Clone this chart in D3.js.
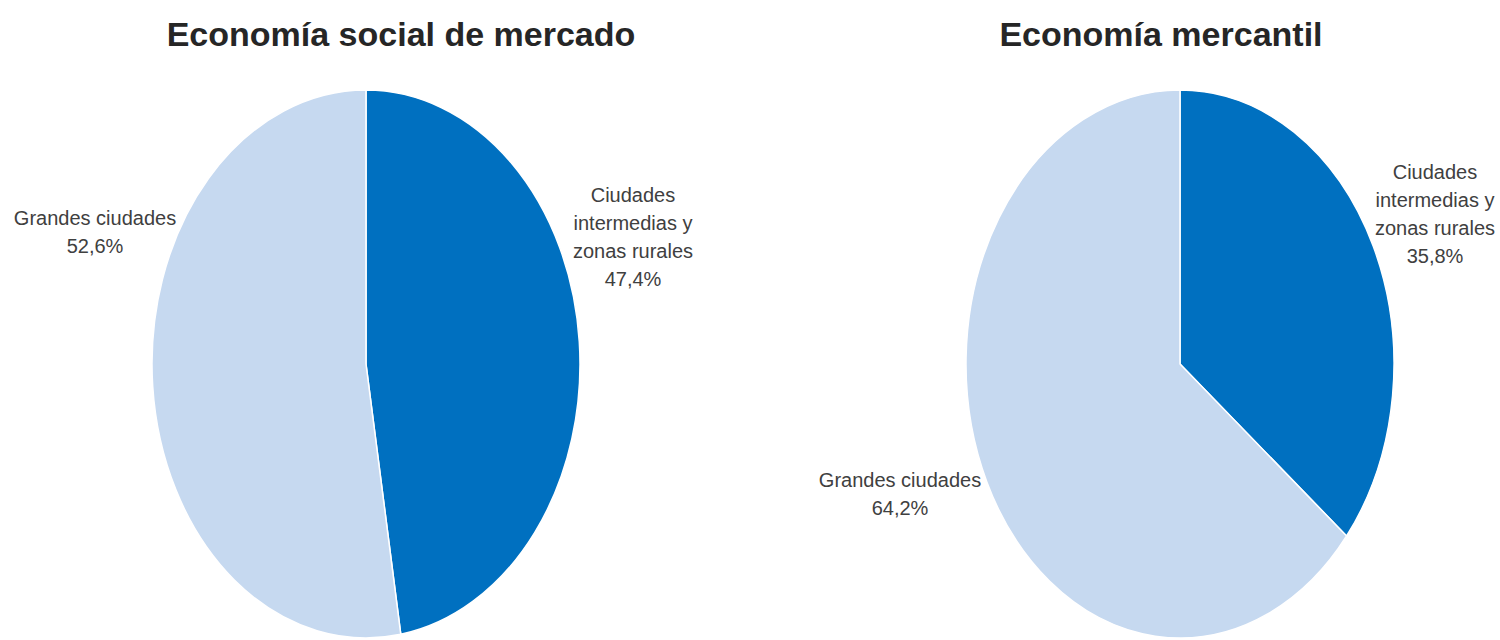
<!DOCTYPE html>
<html>
<head>
<meta charset="utf-8">
<script src="https://cdn.jsdelivr.net/npm/d3@7"></script>
<style>
  body { margin: 0; background: #fff; }
  svg { display: block; }
</style>
</head>
<body>
<div id="chart"></div>
<script>
// datos
var titulos = ["Economía social de mercado", "Economía mercantil"];
var categorias = ["Ciudades intermedias y zonas rurales", "Grandes ciudades"];
var lineasEtiqueta = [["Ciudades", "intermedias y", "zonas rurales"], ["Grandes ciudades"]];
var valoresSocial = [47.4, 52.6];
var valoresMercantil = [35.8, 64.2];
var colores = ["#0070c0", "#c6d9f0"];

var width = 1500, height = 640;

// posiciones de cada torta
var tortas = [
  { titulo: titulos[0], valores: valoresSocial, cx: 366, cy: 364, tx: 401,
    etiquetas: [{ x: 633, y: 202 }, { x: 95, y: 225 }] },
  { titulo: titulos[1], valores: valoresMercantil, cx: 1180, cy: 364, tx: 1161,
    etiquetas: [{ x: 1435, y: 179 }, { x: 900, y: 487 }] }
];
var rx = 214, ry = 274;

var svg = d3.select("#chart")
  .append("svg")
    .attr("width", width)
    .attr("height", height);

var pie = d3.pie().sort(null).value(function(d) { return d; });
var arc = d3.arc().innerRadius(0).outerRadius(rx);

function fmt(v) {
  return v.toFixed(1).replace(".", ",") + "%";
}

tortas.forEach(function(t) {
  svg.append("text")
    .attr("x", t.tx)
    .attr("y", 46)
    .attr("text-anchor", "middle")
    .attr("font-family", "Liberation Sans, Arial, sans-serif")
    .attr("font-weight", "bold")
    .attr("font-size", 34)
    .attr("fill", "#262626")
    .text(t.titulo);

  var g = svg.append("g")
    .attr("transform", "translate(" + t.cx + "," + t.cy + ") scale(1," + (ry / rx) + ")");

  g.selectAll("path")
    .data(pie(t.valores))
    .enter()
    .append("path")
      .attr("d", arc)
      .attr("fill", function(d, i) { return colores[i]; })
      .attr("stroke", "#fff")
      .attr("stroke-width", 1.5)
      .attr("vector-effect", "non-scaling-stroke");

  t.valores.forEach(function(v, i) {
    var pos = t.etiquetas[i];
    var lineas = lineasEtiqueta[i].concat([fmt(v)]);
    var txt = svg.append("text")
      .attr("text-anchor", "middle")
      .attr("font-family", "Liberation Sans, Arial, sans-serif")
      .attr("font-size", 20)
      .attr("fill", "#404040");
    lineas.forEach(function(l, k) {
      txt.append("tspan")
        .attr("x", pos.x)
        .attr("y", pos.y + k * 28)
        .text(l);
    });
  });
});
</script>
</body>
</html>
